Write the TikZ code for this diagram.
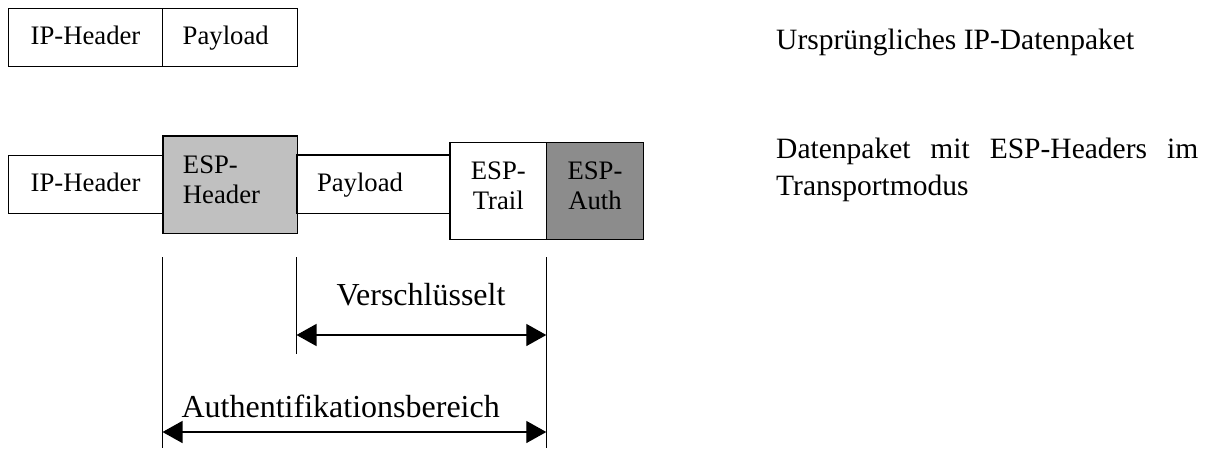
\documentclass[tikz,border=0pt]{standalone}
\usepackage{fontspec}
\setmainfont{Liberation Serif}
\usetikzlibrary{arrows.meta}
\definecolor{hdrgray}{RGB}{192,192,192}
\definecolor{authgray}{RGB}{140,140,140}
\tikzset{
  field/.style={draw=black, line width=1.3pt, inner xsep=20pt, inner ysep=0pt,
    font=\fontsize{26.7}{30}\selectfont, text height=18pt, text depth=4pt},
  twoline/.style={text height=18pt, text depth=41pt},
  bigtext/.style={inner sep=0pt, font=\fontsize{32}{37}\selectfont},
  sidetext/.style={inner sep=0pt, font=\fontsize{29.5}{37}\selectfont, align=left},
  marker/.style={line width=1pt},
  span/.style={line width=1.3pt, {Triangle[length=20pt,width=22pt]}-{Triangle[length=20pt,width=22pt]}}
}
\begin{document}
\begin{tikzpicture}[x=1pt,y=-1pt]
\useasboundingbox (0,0) rectangle (1213,448);

% original packet
\node[field, text width=114.4pt, align=center, minimum height=58.4pt] (ip1) at (85.5,37.5) {IP-Header};
\node[field, text width=95pt, align=left, minimum height=58.4pt] (pl1) at (230.2,37.5) {Payload};

% packet with ESP in transport mode
\node[field, text width=114.7pt, align=center, minimum height=57.6pt] (ip2) at (85.6,184.5) {IP-Header};
\node[field, twoline, fill=hdrgray, text width=94.7pt, align=left, minimum height=97.3pt] (esph) at (230.3,184.7) {ESP-\\Header};
\node[field, text width=113pt, align=left, minimum height=58.3pt] (pl2) at (373.5,184.2) {Payload};
\node[field, twoline, text width=56.7pt, align=center, minimum height=96.6pt] (trail) at (498.3,191) {ESP-\\Trail};
\node[field, twoline, fill=authgray, text width=56.6pt, align=center, minimum height=96.6pt] (auth) at (595,191) {ESP-\\Auth};

% boundary markers
\coordinate (m1t) at (162.5,257);
\coordinate (m1b) at (162.5,448);
\coordinate (m2t) at (296.5,257);
\coordinate (m2b) at (296.5,354);
\coordinate (m3t) at (546.3,257);
\coordinate (m3b) at (546.3,448);
\draw[marker] (m1t) -- (m1b);
\draw[marker] (m2t) -- (m2b);
\draw[marker] (m3t) -- (m3b);

% encrypted range
\coordinate (encl) at (296.5,335);
\coordinate (encr) at (546.3,335);
\draw[span] (encl) -- (encr);
\node[bigtext, anchor=base] (enc) at (421,305) {Verschlüsselt};

% authenticated range
\coordinate (autl) at (162.5,432);
\coordinate (autr) at (546.3,432);
\draw[span] (autl) -- (autr);
\node[bigtext, anchor=base] (autlbl) at (340.7,417) {Authentifikationsbereich};

% side descriptions
\node[sidetext, anchor=base west] (desc1) at (776,49) {Ursprüngliches IP-Datenpaket};
\node[sidetext, anchor=base west] (desc2) at (776,195) {\makebox[422pt][s]{Datenpaket mit ESP-Headers im}\\Transportmodus};
\end{tikzpicture}
\end{document}
